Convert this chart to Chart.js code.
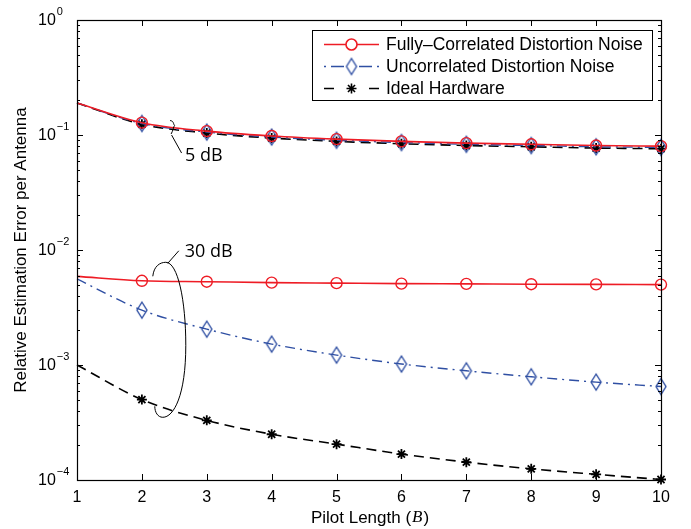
<!DOCTYPE html>
<html>
<head>
<meta charset="utf-8">
<script src="https://cdn.jsdelivr.net/npm/chart.js@4.4.0/dist/chart.umd.min.js"></script>
<style>
    html, body { margin: 0; padding: 0; background: #fff; }
    #wrap { width: 691px; height: 529px; }
</style>
</head>
<body>
<div id="wrap"><canvas id="errorChart" width="691" height="529"></canvas></div>
<script>
// Values
const pilotLengths = [1, 2, 3, 4, 5, 6, 7, 8, 9, 10];
const fully5dB = [0.19, 0.128, 0.108, 0.098, 0.092, 0.088, 0.085, 0.083, 0.081, 0.080];
const uncorr5dB = [0.19, 0.126, 0.106, 0.096, 0.090, 0.086, 0.083, 0.081, 0.079, 0.078];
const ideal5dB = [0.19, 0.124, 0.104, 0.094, 0.088, 0.084, 0.081, 0.079, 0.077, 0.076];
const fully30dB = [0.0059, 0.0054, 0.0053, 0.0052, 0.00515, 0.0051, 0.00507, 0.00504, 0.00502, 0.0050];
const uncorr30dB = [0.0056, 0.0030, 0.00205, 0.00152, 0.00122, 0.00102, 0.00089, 0.00079, 0.00071, 0.00065];
const ideal30dB = [0.0010, 0.00050, 0.00033, 0.00025, 0.000205, 0.000168, 0.000143, 0.000125, 0.000112, 0.000101];
const yExponents = [0, -1, -2, -3, -4];
const legendLabels = ['Fully\u2013Correlated Distortion Noise', 'Uncorrelated Distortion Noise', 'Ideal Hardware'];

const RED = '#ee1c25';
const BLUE = '#2f4fa3';
const BLACK = '#000000';
const HELV = '"Liberation Sans", Arial, sans-serif';
const MYRIAD = '"Open Sans", "Noto Sans", sans-serif';

// Tall diamond marker (MATLAB 'd')
function makeDiamond(color) {
    const c = document.createElement('canvas');
    c.width = 14;
    c.height = 20;
    const g = c.getContext('2d');
    g.strokeStyle = color;
    g.lineWidth = 1.4;
    g.beginPath();
    g.moveTo(7, 2);
    g.lineTo(12, 10);
    g.lineTo(7, 18);
    g.lineTo(2, 10);
    g.closePath();
    g.stroke();
    return c;
}
const diamond = makeDiamond(BLUE);

function toPoints(values) {
    return values.map((v, i) => ({ x: pilotLengths[i], y: v }));
}

// No marker at B = 1
function skipFirst(size) {
    return ctx => (ctx.dataIndex === 0 ? 0 : size);
}

const styles = {
    fully: { borderColor: RED, borderWidth: 1.6, borderDash: [], pointStyle: 'circle', pointRadius: skipFirst(5.5), pointBorderWidth: 1.4 },
    uncorr: { borderColor: BLUE, borderWidth: 1.4, borderDash: [10, 5, 2, 5], pointStyle: diamond, pointRadius: skipFirst(6), pointBorderWidth: 1.4 },
    ideal: { borderColor: BLACK, borderWidth: 1.6, borderDash: [10, 6], pointStyle: 'star', pointRadius: skipFirst(5), pointBorderWidth: 1.8 }
};

// legend line pieces, as [from, to] offsets from the sample start
const legendSegments = {
    fully: [[0, 55]],
    uncorr: [[0, 2], [7, 20], [35, 48], [53, 55]],
    ideal: [[0, 10], [45, 55]]
};

function makeDataset(values, style) {
    return Object.assign({
        data: toPoints(values),
        backgroundColor: 'rgba(0,0,0,0)',
        pointBackgroundColor: 'rgba(0,0,0,0)',
        pointBorderColor: style.borderColor,
        cubicInterpolationMode: 'monotone',
        clip: 10,
        fill: false
    }, style);
}

// Box, ticks, tick labels, titles and the dB call-outs
const matlabAxes = {
    id: 'matlabAxes',
    afterDatasetsDraw(chart) {
        const ctx = chart.ctx;
        const a = chart.chartArea;
        const xs = chart.scales.x;
        const ys = chart.scales.y;
        ctx.save();
        ctx.strokeStyle = '#000';
        ctx.lineWidth = 1;

        // ticks inside the box
        ctx.beginPath();
        pilotLengths.forEach(v => {
            const px = Math.round(xs.getPixelForValue(v)) + 0.5;
            ctx.moveTo(px, a.bottom); ctx.lineTo(px, a.bottom - 6);
            ctx.moveTo(px, a.top); ctx.lineTo(px, a.top + 6);
        });
        yExponents.forEach(e => {
            for (let m = 1; m < 10; m++) {
                const val = m * Math.pow(10, e - 1);
                if (val < 1e-4) continue;
                const py = Math.round(ys.getPixelForValue(val)) + 0.5;
                const len = m === 1 ? 6 : 3;
                ctx.moveTo(a.left, py); ctx.lineTo(a.left + len, py);
                ctx.moveTo(a.right, py); ctx.lineTo(a.right - len, py);
            }
        });
        ctx.stroke();

        // box
        ctx.lineWidth = 1.2;
        ctx.strokeRect(Math.round(a.left) + 0.5, Math.round(a.top) + 0.5, Math.round(a.right - a.left), Math.round(a.bottom - a.top));

        // y tick labels 10^n
        ctx.fillStyle = '#000';
        ctx.textBaseline = 'middle';
        ctx.textAlign = 'left';
        yExponents.forEach(e => {
            const py = ys.getPixelForValue(Math.pow(10, e));
            ctx.font = '16px ' + HELV;
            ctx.fillText('10', 38, py + 1);
            const w = ctx.measureText('10').width;
            ctx.font = '11px ' + HELV;
            ctx.fillText(e === 0 ? '0' : '\u2212' + Math.abs(e), 38 + w + 1, py - 8);
        });

        // x title with italic B
        ctx.font = '17px ' + HELV;
        const t1 = 'Pilot Length (';
        const t3 = ')';
        const w1 = ctx.measureText(t1).width;
        const w3 = ctx.measureText(t3).width;
        ctx.font = 'italic 17px "Liberation Serif", serif';
        const w2 = ctx.measureText('B').width;
        const x0 = (a.left + a.right) / 2 - (w1 + w2 + w3) / 2;
        ctx.font = '17px ' + HELV;
        ctx.fillText(t1, x0, 518);
        ctx.font = 'italic 17px "Liberation Serif", serif';
        ctx.fillText('B', x0 + w1 + 1, 518);
        ctx.font = '17px ' + HELV;
        ctx.fillText(t3, x0 + w1 + w2 + 2, 518);

        // y title
        ctx.save();
        ctx.translate(21, (a.top + a.bottom) / 2);
        ctx.rotate(-Math.PI / 2);
        ctx.textAlign = 'center';
        ctx.fillText('Relative Estimation Error per Antenna', 0, 0);
        ctx.restore();

        // 5 dB call-out
        let cx = xs.getPixelForValue(2.45);
        let cy = ys.getPixelForValue(0.115);
        ctx.lineWidth = 1;
        ctx.beginPath();
        ctx.moveTo(cx - 1, cy - 7.5);
        ctx.bezierCurveTo(cx + 3, cy - 7, cx + 2, cy - 4, cx + 3.5, cy - 2.5);
        ctx.bezierCurveTo(cx + 2, cy - 1, cx + 2, cy + 3, cx, cy + 6);
        ctx.moveTo(cx + 0.5, cy + 7);
        ctx.lineTo(cx + 10.5, cy + 25);
        ctx.stroke();
        ctx.font = '18px ' + MYRIAD;
        ctx.fillText('5 dB', cx + 14, cy + 28);

        // 30 dB call-out
        cx = xs.getPixelForValue(2.43);
        cy = ys.getPixelForValue(0.00164);
        ctx.beginPath();
        ctx.moveTo(cx - 17, cy - 64);
        ctx.bezierCurveTo(cx - 16, cy - 74, cx - 10, cy - 78, cx - 4, cy - 78);
        ctx.bezierCurveTo(cx + 8, cy - 78, cx + 16, cy - 40, cx + 16, cy + 5);
        ctx.bezierCurveTo(cx + 16, cy + 55, cx + 4, cy + 77, cx - 7, cy + 77);
        ctx.bezierCurveTo(cx - 12, cy + 77, cx - 15, cy + 72, cx - 15, cy + 66);
        ctx.moveTo(cx - 2, cy - 77);
        ctx.lineTo(cx + 9, cy - 89.5);
        ctx.stroke();
        ctx.fillText('30 dB', cx + 15, cy - 88.5);
        ctx.restore();
    },
    afterDraw(chart) {
        // legend box in the upper right corner
        const ctx = chart.ctx;
        const keys = ['fully', 'uncorr', 'ideal'];
        ctx.save();
        ctx.fillStyle = '#fff';
        ctx.fillRect(312.5, 30.5, 340, 70);
        ctx.strokeStyle = '#000';
        ctx.lineWidth = 1;
        ctx.strokeRect(312.5, 30.5, 340, 70);
        keys.forEach((k, i) => {
            const s = styles[k];
            const y = 44.5 + i * 22;
            ctx.strokeStyle = s.borderColor;
            ctx.lineWidth = s.borderWidth;
            ctx.beginPath();
            legendSegments[k].forEach(seg => {
                ctx.moveTo(324 + seg[0], y);
                ctx.lineTo(324 + seg[1], y);
            });
            ctx.stroke();
            if (k === 'fully') {
                ctx.fillStyle = '#fff';
                ctx.beginPath();
                ctx.arc(351.5, y, 5.5, 0, Math.PI * 2);
                ctx.fill();
            }
            Chart.helpers.drawPoint(ctx, {
                pointStyle: s.pointStyle,
                radius: k === 'fully' ? 5.5 : (k === 'uncorr' ? 6 : 5),
                borderWidth: s.pointBorderWidth,
                rotation: 0
            }, 351.5, y);
            ctx.fillStyle = '#000';
            ctx.font = '17.5px ' + HELV;
            ctx.textBaseline = 'middle';
            ctx.fillText(legendLabels[i], 386, y + 1);
        });
        ctx.restore();
    }
};

const chart = new Chart(document.getElementById('errorChart').getContext('2d'), {
    type: 'line',
    data: {
        datasets: [
            makeDataset(fully5dB, styles.fully),
            makeDataset(fully30dB, styles.fully),
            makeDataset(uncorr5dB, styles.uncorr),
            makeDataset(uncorr30dB, styles.uncorr),
            makeDataset(ideal5dB, styles.ideal),
            makeDataset(ideal30dB, styles.ideal)
        ]
    },
    options: {
        responsive: false,
        animation: false,
        devicePixelRatio: 1,
        layout: { padding: { top: 20, right: 30, left: 0, bottom: 0 } },
        plugins: { legend: { display: false }, tooltip: { enabled: false } },
        scales: {
            x: {
                type: 'linear',
                min: 1,
                max: 10,
                ticks: { stepSize: 1, color: '#000', padding: 8, font: { family: HELV, size: 16 } },
                grid: { display: false, drawTicks: false },
                border: { display: false },
                afterFit: function(scale) { scale.height = 49; }
            },
            y: {
                type: 'logarithmic',
                min: 1e-4,
                max: 1,
                ticks: { display: false },
                grid: { display: false, drawTicks: false },
                border: { display: false },
                afterFit: function(scale) { scale.width = 77; }
            }
        }
    },
    plugins: [matlabAxes]
});
</script>
</body>
</html>
